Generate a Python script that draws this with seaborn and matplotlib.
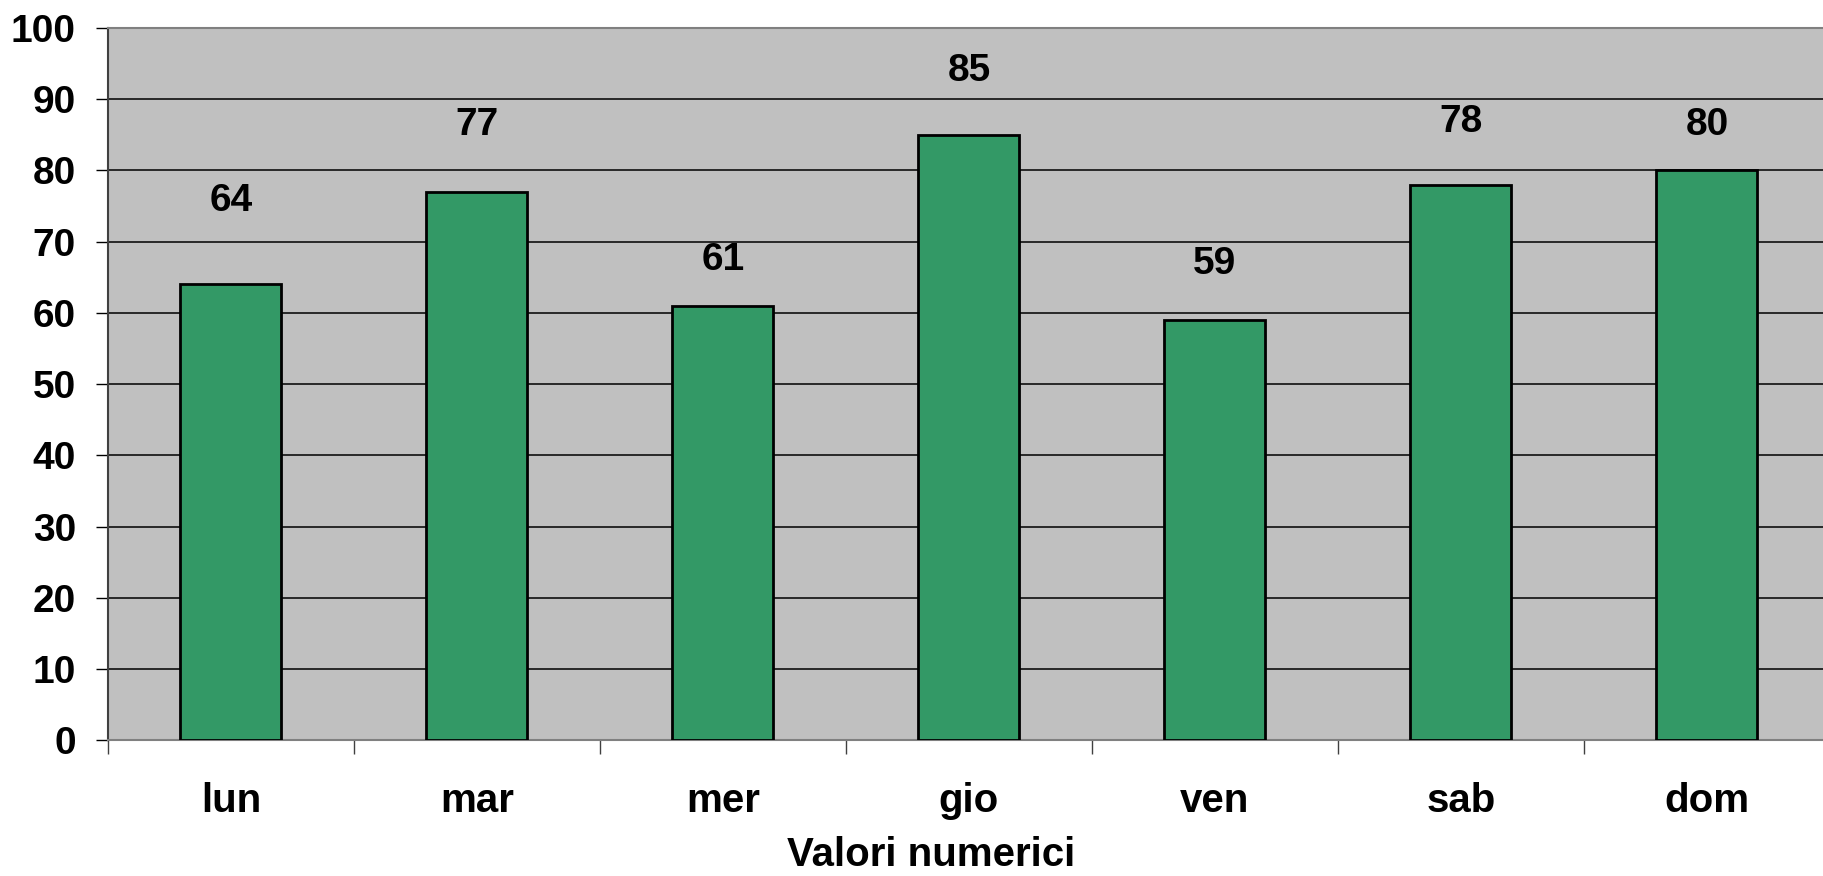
import matplotlib
matplotlib.use("Agg")
import matplotlib.pyplot as plt
import seaborn as sns
import pandas as pd
from matplotlib.ticker import FixedLocator, MultipleLocator

# data
giorni = ["lun", "mar", "mer", "gio", "ven", "sab", "dom"]
valori = [64, 77, 61, 85, 59, 78, 80]
# distance of each value label above its bar (points), as drawn in the original
label_offset = [60, 48, 33, 46, 40, 45, 33]

df = pd.DataFrame({"giorno": giorni, "valore": valori})

sns.set_style("white")
plt.rcParams["font.family"] = ["Liberation Sans", "DejaVu Sans"]
plt.rcParams["font.weight"] = "bold"
plt.rcParams["text.color"] = "black"
plt.rcParams["axes.labelcolor"] = "black"
plt.rcParams["xtick.color"] = "black"
plt.rcParams["ytick.color"] = "black"

fig = plt.figure(figsize=(18.23, 8.76), dpi=100)
ax = fig.add_axes([0.0592, 0.155, 0.9446, 0.813])
ax.set_facecolor("#C0C0C0")

sns.barplot(data=df, x="giorno", y="valore", color="#339966", saturation=1,
            width=0.41, edgecolor="black", linewidth=2, ax=ax, zorder=3)

ax.set_ylim(0, 100)
ax.set_xlim(-0.5, len(giorni) - 0.5)
ax.yaxis.set_major_locator(MultipleLocator(10))
ax.grid(axis="y", color="black", linewidth=1.1, zorder=1)
ax.set_axisbelow(True)

# value labels
for i, (v, off) in enumerate(zip(valori, label_offset)):
    ax.annotate(str(v), (i, v), xytext=(0, off), textcoords="offset points",
                ha="center", va="center", fontsize=28, fontweight="bold",
                color="black", zorder=4)

# ticks: y outside, x tick marks between categories
ax.tick_params(axis="y", which="major", direction="out", length=9, width=1,
               color="black", labelcolor="black", labelsize=28, pad=14, left=True)
ax.set_xticks(range(len(giorni)))
ax.set_xticklabels(giorni)
ax.tick_params(axis="x", which="major", length=0, labelsize=29, pad=30,
               labelcolor="black")
ax.xaxis.set_minor_locator(FixedLocator([i - 0.5 for i in range(len(giorni) + 1)]))
ax.tick_params(axis="x", which="minor", direction="out", length=10, width=1,
               color="#404040", bottom=True)
for lab in ax.get_yticklabels() + ax.get_xticklabels():
    lab.set_fontweight("bold")

for side in ["top", "right", "bottom", "left"]:
    ax.spines[side].set_color("#808080")
    ax.spines[side].set_linewidth(1.5)
ax.spines["left"].set_color("#404040")

ax.set_ylabel("")
ax.set_xlabel("Valori numerici", fontsize=29, fontweight="bold", color="black",
              va="bottom")
ax.xaxis.set_label_coords(0.478, -0.188)

fig.savefig("out.png", dpi=100, facecolor="white")
